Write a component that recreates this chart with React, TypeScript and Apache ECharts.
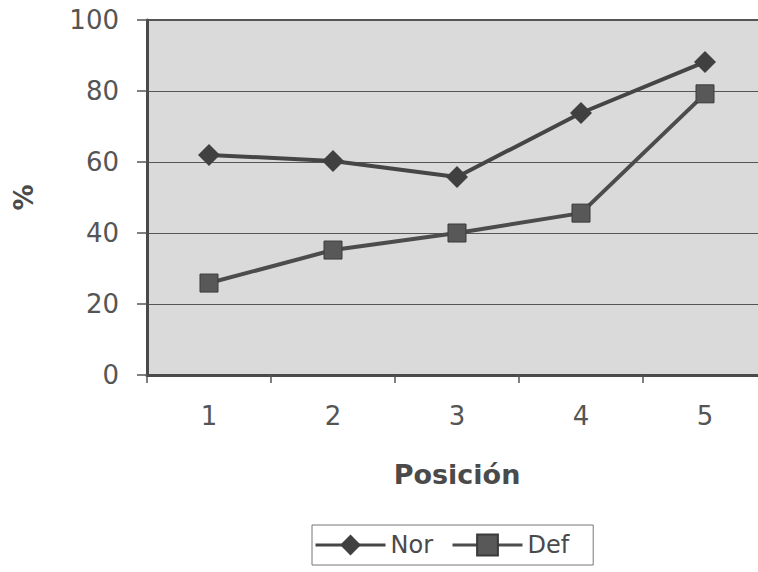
import React, { useEffect, useRef } from "react";
import * as echarts from "echarts";

const categories = ["1", "2", "3", "4", "5"];
const norValues = [62, 60.3, 55.8, 73.8, 88.2];
const defValues = [25.9, 35.2, 40, 45.6, 79.2];
const seriesNames = ["Nor", "Def"];
const yTicks = { min: 0, max: 100, interval: 20 };

export default function App() {
  const ref = useRef<HTMLDivElement>(null);
  useEffect(() => {
    document.body.style.margin = "0";
    const chart = echarts.init(ref.current!, null, { renderer: "svg" });
    const font = "'DejaVu Sans', 'Liberation Sans', Arial, sans-serif";
    chart.setOption({
      animation: false,
      backgroundColor: "#ffffff",
      grid: {
        left: 147,
        top: 20,
        width: 620,
        height: 355,
        outerBoundsMode: "none",
        containLabel: false,
        show: true,
        backgroundColor: "#dadada",
        borderColor: "#555555",
        borderWidth: 2,
      },
      xAxis: {
        type: "category",
        data: categories,
        boundaryGap: true,
        name: "Posición",
        nameLocation: "middle",
        nameGap: 86,
        nameTextStyle: { fontFamily: font, fontSize: 27, fontWeight: "bold", color: "#4a4a4a" },
        axisLine: { lineStyle: { color: "#4a4a4a", width: 3 } },
        axisTick: { show: true, length: 8, inside: false, lineStyle: { color: "#555", width: 1.5 } },
        axisLabel: { fontFamily: font, fontSize: 26, color: "#555555", margin: 28 },
        splitLine: { show: false },
      },
      yAxis: {
        type: "value",
        min: yTicks.min,
        max: yTicks.max,
        interval: yTicks.interval,
        name: "%",
        nameLocation: "middle",
        nameGap: 110,
        nameRotate: 90,
        nameTextStyle: { fontFamily: font, fontSize: 26, fontWeight: "bold", color: "#4a4a4a" },
        axisLine: { show: true, lineStyle: { color: "#4a4a4a", width: 3 } },
        axisTick: { show: true, length: 10, lineStyle: { color: "#555", width: 1.5 } },
        axisLabel: { fontFamily: font, fontSize: 26, color: "#555555", margin: 28 },
        splitLine: { show: true, lineStyle: { color: "#555555", width: 1 } },
      },
      legend: {
        data: seriesNames,
        left: 312,
        top: 525,
        orient: "horizontal",
        itemWidth: 70,
        itemHeight: 26,
        itemGap: 18,
        padding: [8, 24, 8, 2],
        borderColor: "#777777",
        borderWidth: 1,
        lineStyle: { width: 3 },
        textStyle: { fontFamily: font, fontSize: 24, color: "#4a4a4a" },
      },
      series: [
        {
          name: seriesNames[0],
          type: "line",
          data: norValues,
          symbol: "diamond",
          symbolSize: 22,
          lineStyle: { color: "#454545", width: 4 },
          itemStyle: { color: "#404040" },
        },
        {
          name: seriesNames[1],
          type: "line",
          data: defValues,
          symbol: "rect",
          symbolSize: 18,
          lineStyle: { color: "#4c4c4c", width: 4 },
          itemStyle: { color: "#585858", borderColor: "#3a3a3a", borderWidth: 1 },
        },
      ],
    });
    return () => chart.dispose();
  }, []);
  return (
    <div
      ref={ref}
      style={{ position: "absolute", left: 0, top: 0, width: 758, height: 572, overflow: "hidden" }}
    />
  );
}
